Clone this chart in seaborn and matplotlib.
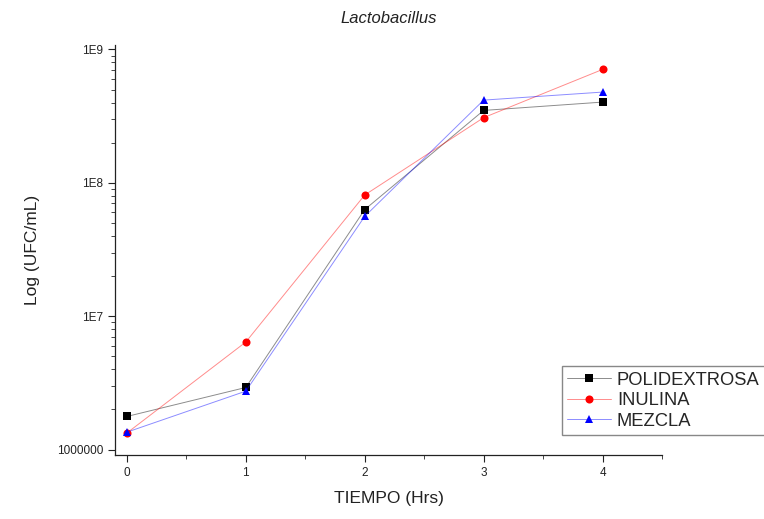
import numpy as np
import pandas as pd
import matplotlib
matplotlib.use('Agg')
import matplotlib.pyplot as plt
import matplotlib.ticker as mticker
import matplotlib.colors as mcolors
import seaborn as sns

# valores
tiempo = [0, 1, 2, 3, 4]
polidextrosa = [1.77e6, 2.92e6, 6.3e7, 3.49e8, 4.03e8]
inulina = [1.33e6, 6.4e6, 8.1e7, 3.08e8, 7.08e8]
mezcla = [1.35e6, 2.74e6, 5.6e7, 4.17e8, 4.79e8]
series = ['POLIDEXTROSA', 'INULINA', 'MEZCLA']
colores = ['black', 'red', 'blue']
marcadores = ['s', 'o', '^']

df = pd.DataFrame({
    'tiempo': tiempo * 3,
    'ufc': polidextrosa + inulina + mezcla,
    'serie': [s for s in series for _ in tiempo],
})

sns.set_style('ticks')
plt.rcParams['font.family'] = ['Liberation Sans', 'DejaVu Sans']

fig = plt.figure(figsize=(7.64, 5.19), dpi=100)
ax = fig.add_axes([0.1505, 0.1233, 0.716, 0.79])

sns.lineplot(data=df, x='tiempo', y='ufc', hue='serie', style='serie',
             hue_order=series, style_order=series,
             palette=dict(zip(series, colores)),
             markers=dict(zip(series, marcadores)), dashes=False,
             markersize=5.8, markeredgewidth=0, linewidth=0.7, ax=ax)

ax.set_yscale('log')
ax.set_ylim(0.91e6, 1.08e9)
ax.set_xlim(-0.1, 4.5)

ax.yaxis.set_major_locator(mticker.LogLocator(base=10, numticks=10))
ax.yaxis.set_minor_locator(mticker.LogLocator(base=10, subs=np.arange(2, 10), numticks=20))
ax.yaxis.set_minor_formatter(mticker.NullFormatter())
ax.yaxis.set_major_formatter(mticker.FuncFormatter(
    lambda v, p: '1000000' if round(np.log10(v)) == 6 else '1E%d' % round(np.log10(v))))
ax.xaxis.set_major_locator(mticker.MultipleLocator(1))
ax.xaxis.set_minor_locator(mticker.MultipleLocator(0.5))

ax.tick_params(which='major', direction='out', length=5, width=0.8, labelsize=8.5, colors='#222222')
ax.tick_params(which='minor', direction='out', length=3, width=0.6)
for s in ['left', 'bottom']:
    ax.spines[s].set_linewidth(0.9)
    ax.spines[s].set_color('#222222')
sns.despine(ax=ax)

ax.set_xlabel('TIEMPO (Hrs)', fontsize=12.5, labelpad=9, color='#222222')
ax.set_ylabel('Log (UFC/mL)', fontsize=12.5, labelpad=12, color='#222222')
ax.set_title('Lactobacillus', fontsize=12, style='italic', pad=16, color='#222222')

handles, labels = ax.get_legend_handles_labels()

# lineas tenues, marcadores solidos
for ln in ax.get_lines():
    c = ln.get_color()
    ln.set_markerfacecolor(c)
    ln.set_markeredgecolor(c)
    ln.set_color(mcolors.to_rgba(c, 0.45))

leg = ax.legend(handles, labels, loc='upper left', bbox_to_anchor=(0.817, 0.217),
                borderaxespad=0, fontsize=13.2, labelspacing=0.2, handlelength=2.4,
                handletextpad=0.3, borderpad=0.3, fancybox=False, framealpha=1,
                edgecolor='#888888')
for h, c in zip(leg.legend_handles, colores):
    h.set_markerfacecolor(c)
    h.set_markeredgecolor(c)
    h.set_color(mcolors.to_rgba(c, 0.45))

fig.savefig('out.png', dpi=100)
